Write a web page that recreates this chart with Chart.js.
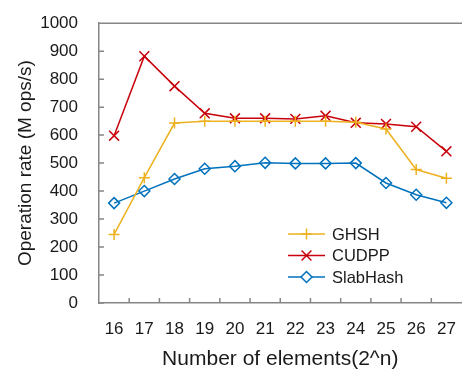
<!DOCTYPE html>
<html>
<head>
<meta charset="utf-8">
<script src="https://cdn.jsdelivr.net/npm/chart.js@4/dist/chart.umd.min.js"></script>
<style>
  html, body { margin: 0; padding: 0; background: #fff; overflow: hidden; }
  #wrap { width: 470px; height: 372px; }
</style>
</head>
<body>
<div id="wrap"><canvas id="myChart" width="470" height="372"></canvas></div>
<script>
var categories = ["16", "17", "18", "19", "20", "21", "22", "23", "24", "25", "26", "27"];
var ghsh     = [245, 448, 643, 650, 650, 650, 650, 650, 646, 622, 477, 446];
var cudpp    = [598, 882, 775, 678, 660, 660, 658, 669, 644, 640, 630, 542];
var slabHash = [357, 400, 443, 480, 489, 501, 499, 499, 500, 429, 387, 358];
var yTicks   = [0, 100, 200, 300, 400, 500, 600, 700, 800, 900, 1000];

var FONT = "'Liberation Sans', Arial, sans-serif";
var AXIS_GREY = "#868686";

function series(label, data, color, style, radius) {
  return {
    label: label,
    data: data,
    borderColor: color,
    backgroundColor: "#fff",
    borderWidth: 1.5,
    pointStyle: style,
    pointRadius: radius,
    pointHoverRadius: radius,
    pointBorderColor: color,
    pointBackgroundColor: "rgba(255,255,255,0)",
    pointBorderWidth: 1.5,
    tension: 0
  };
}

// inward ticks, top border and the legend inside the plot
var boxPlugin = {
  id: "box",
  beforeDatasetsDraw: function(chart) {
    var c = chart.ctx, a = chart.chartArea;
    var x = chart.scales.x, y = chart.scales.y;
    c.save();
    c.strokeStyle = AXIS_GREY;
    c.lineWidth = 1.5;
    c.beginPath();
    c.moveTo(a.left, a.top);
    c.lineTo(chart.width, a.top);
    yTicks.forEach(function(v) {
      var py = y.getPixelForValue(v);
      c.moveTo(a.left, py);
      c.lineTo(a.left + 5, py);
    });
    for (var i = 0; i < categories.length - 1; i++) {
      var px = (x.getPixelForValue(i) + x.getPixelForValue(i + 1)) / 2;
      c.moveTo(px, a.bottom);
      c.lineTo(px, a.bottom - 5);
    }
    c.stroke();
    c.restore();
  },
  afterDraw: function(chart) {
    var c = chart.ctx;
    var rows = [234, 255.5, 277];
    c.save();
    chart.data.datasets.forEach(function(ds, i) {
      var ry = rows[i];
      c.strokeStyle = ds.borderColor;
      c.lineWidth = 1.5;
      c.beginPath();
      c.moveTo(288, ry);
      c.lineTo(325, ry);
      c.stroke();
      c.fillStyle = "#fff";
      Chart.helpers.drawPoint(c, {
        pointStyle: ds.pointStyle,
        radius: ds.pointRadius,
        borderWidth: 1.5,
        rotation: 0
      }, 306.5, ry);
      c.fillStyle = "#1a1a1a";
      c.font = "16.5px " + FONT;
      c.textBaseline = "middle";
      c.fillText(ds.label, 332, ry + 1);
    });
    c.restore();
  }
};

var ctx = document.getElementById("myChart");

var myChart = new Chart(ctx, {
  type: "line",
  data: {
    labels: categories,
    datasets: [
      series("GHSH", ghsh, "#EDB120", "cross", 5.5),
      series("CUDPP", cudpp, "#C8000A", "crossRot", 7),
      series("SlabHash", slabHash, "#0072BD", "rectRot", 5.5)
    ]
  },
  options: {
    responsive: false,
    animation: false,
    layout: { padding: { top: 19.5, left: 0, right: 0, bottom: 0 } },
    plugins: {
      legend: { display: false },
      tooltip: { enabled: false }
    },
    scales: {
      x: {
        offset: true,
        grid: { display: false, offset: true },
        border: { color: AXIS_GREY, width: 1.5 },
        ticks: { color: "#1a1a1a", font: { family: FONT, size: 17 }, padding: 8, maxRotation: 0 },
        title: {
          display: true,
          text: "Number of elements(2^n)",
          color: "#1a1a1a",
          font: { family: FONT, size: 21 },
          padding: { top: 0, bottom: 0 }
        },
        afterFit: function(scale) { scale.height = 69; }
      },
      y: {
        min: 0,
        max: 1000,
        afterBuildTicks: function(scale) {
          scale.ticks = yTicks.map(function(v) { return { value: v }; });
        },
        grid: { display: false },
        border: { color: AXIS_GREY, width: 1.5 },
        ticks: {
          color: "#1a1a1a",
          font: { family: FONT, size: 17 },
          padding: 13,
          callback: function(v) { return String(v); }
        },
        title: {
          display: true,
          text: "Operation rate (M ops/s)",
          color: "#1a1a1a",
          font: { family: FONT, size: 19 },
          padding: { top: 14, bottom: 0 }
        },
        afterFit: function(scale) { scale.width = 99; }
      }
    }
  },
  plugins: [boxPlugin]
});
</script>
</body>
</html>
